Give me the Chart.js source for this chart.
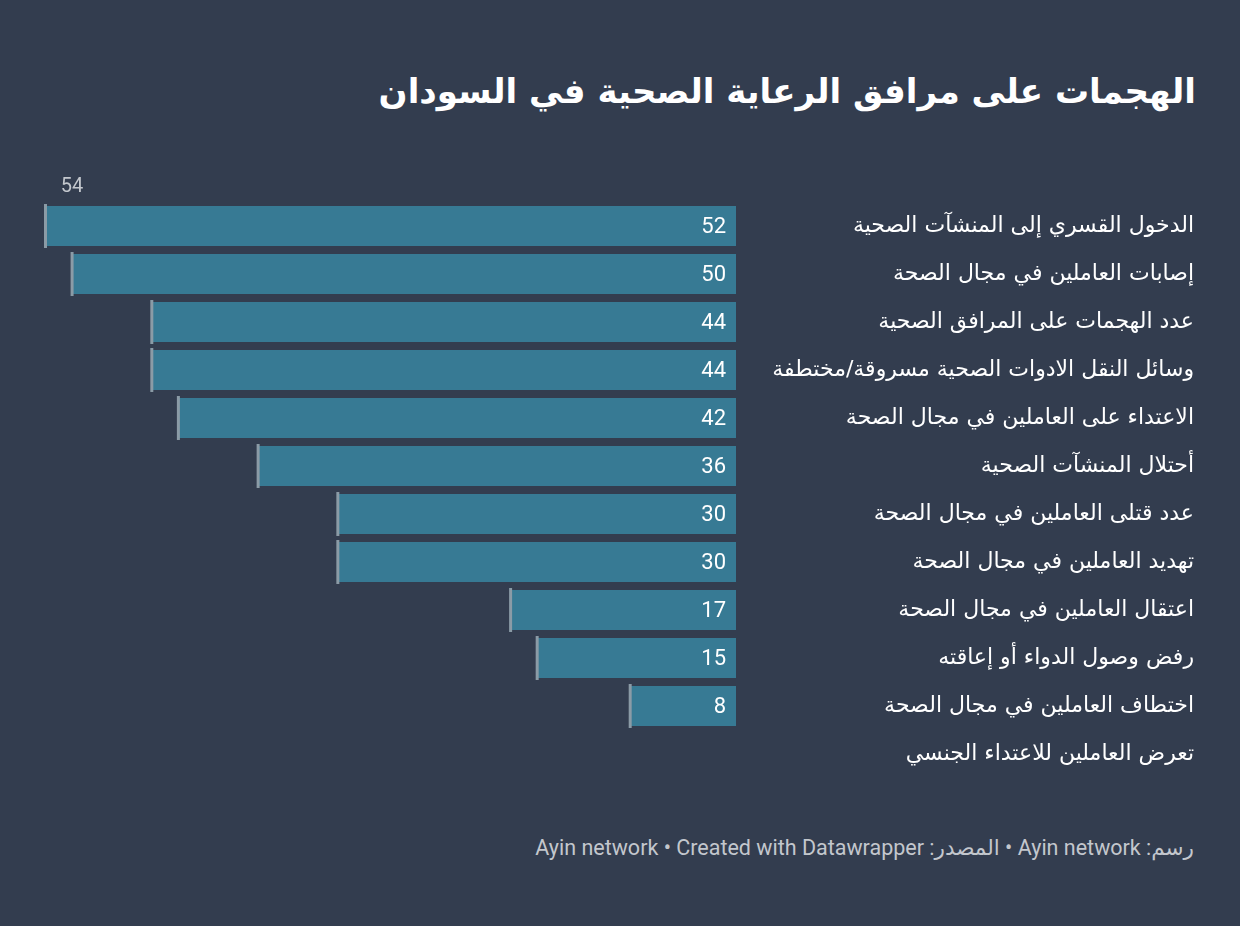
<!DOCTYPE html>
<html lang="ar">
<head>
<meta charset="utf-8">
<script src="https://cdn.jsdelivr.net/npm/chart.js@4"></script>
<style>
  html, body { margin: 0; padding: 0; background: #333d4f; }
  body { width: 1240px; height: 926px; position: relative; overflow: hidden; font-family: Roboto, "DejaVu Sans", sans-serif; }
  h1 { position: absolute; right: 44px; top: 71px; margin: 0; font-size: 34px; font-weight: bold; color: #ffffff; direction: rtl; font-family: "DejaVu Sans", sans-serif; }
  #wrap { position: absolute; left: 0; top: 160px; width: 1240px; height: 640px; }
  .foot { position: absolute; right: 46px; top: 835px; font-size: 21.5px; color: #c3c7cd; direction: rtl; }
</style>
</head>
<body>
<h1>الهجمات على مرافق الرعاية الصحية في السودان</h1>
<div id="wrap"><canvas id="chart"></canvas></div>
<div class="foot">رسم: Ayin network • المصدر: Ayin network • Created with Datawrapper</div>
<script>
// الفئات والقيم
const categories = [
  'الدخول القسري إلى المنشآت الصحية',
  'إصابات العاملين في مجال الصحة',
  'عدد الهجمات على المرافق الصحية',
  'وسائل النقل الادوات الصحية مسروقة/مختطفة',
  'الاعتداء على العاملين في مجال الصحة',
  'أحتلال المنشآت الصحية',
  'عدد قتلى العاملين في مجال الصحة',
  'تهديد العاملين في مجال الصحة',
  'اعتقال العاملين في مجال الصحة',
  'رفض وصول الدواء أو إعاقته',
  'اختطاف العاملين في مجال الصحة',
  'تعرض العاملين للاعتداء الجنسي'
];
const values = [52, 50, 44, 44, 42, 36, 30, 30, 17, 15, 8, null];
const topLabel = '54';

// قيم داخل الأشرطة + العلامة الرمادية
const barDecor = {
  id: 'barDecor',
  afterDatasetsDraw(chart) {
    const c = chart.ctx;
    const meta = chart.getDatasetMeta(0);
    c.save();
    meta.data.forEach((bar, i) => {
      if (values[i] === null) return;
      const p = bar.getProps(['x', 'y', 'base', 'height'], true);
      c.fillStyle = '#8b9ba6';
      c.fillRect(p.x - 1, p.y - p.height / 2 - 2, 3, p.height + 4);
      c.fillStyle = '#ffffff';
      c.font = '22px Roboto';
      c.textAlign = 'right';
      c.textBaseline = 'middle';
      c.fillText(values[i], p.base - 10, p.y + 1);
    });
    const area = chart.chartArea;
    c.fillStyle = '#c3c7cd';
    c.font = '20px Roboto';
    c.textAlign = 'center';
    c.textBaseline = 'middle';
    c.fillText(topLabel, area.left + 27, area.top - 15);
    c.restore();
  }
};

const chart = new Chart(document.getElementById('chart'), {
  type: 'bar',
  data: {
    labels: categories,
    datasets: [{
      data: values,
      backgroundColor: '#377a94',
      borderWidth: 0,
      categoryPercentage: 1,
      barPercentage: 0.833
    }]
  },
  options: {
    indexAxis: 'y',
    responsive: true,
    maintainAspectRatio: false,
    animation: false,
    layout: { padding: { left: 45, right: 46, top: 42, bottom: 22 } },
    plugins: { legend: { display: false }, tooltip: { enabled: false } },
    scales: {
      x: {
        display: false,
        reverse: true,
        min: 0,
        max: 52
      },
      y: {
        position: 'right',
        grid: { display: false },
        border: { display: false },
        ticks: {
          crossAlign: 'far',
          color: '#ffffff',
          padding: 0,
          font: { size: 22, family: '"DejaVu Sans", sans-serif' }
        },
        afterFit(scale) { scale.width = 458; }
      }
    }
  },
  plugins: [barDecor]
});
</script>
</body>
</html>
